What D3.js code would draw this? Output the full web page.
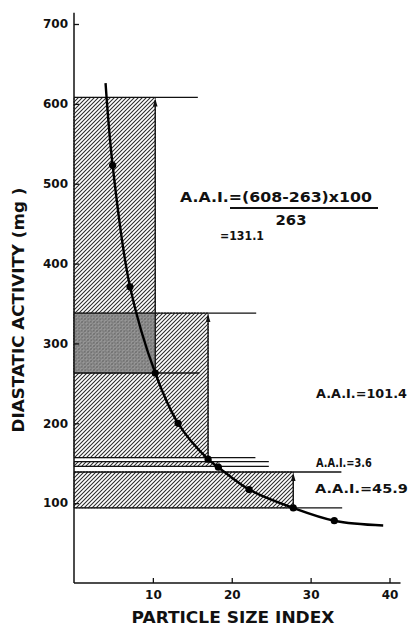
<!DOCTYPE html>
<html><head><meta charset="utf-8">
<script src="https://cdn.jsdelivr.net/npm/d3@7"></script>
<style>
html,body{margin:0;padding:0;background:#fff;}
svg{display:block;font-family:"DejaVu Sans",sans-serif;font-weight:bold;}
</style></head>
<body><svg id="c" width="411" height="628"></svg>
<script>
// ---- data ----
const xTicks = [10, 20, 30, 40];
const yTicks = [100, 200, 300, 400, 500, 600, 700];
// smooth curve (particle size index vs diastatic activity)
const curveX = [4.0, 4.9, 7.1, 10.3, 13.2, 17.0, 18.3, 22.2, 27.8, 33.0, 39.2];
const curveY = [626, 523, 371, 263, 200, 155, 145, 117, 94, 78, 72];
// measured points (dots)
const dotX = [4.9, 7.1, 10.3, 13.2, 17.0, 18.3, 22.2, 27.8, 33.0];
const dotY = [523, 371, 263, 200, 155, 145, 117, 94, 78];
// hatched boxes: right edge (PSI), low and high activity
const boxRight = [10.3, 17.0, 18.4, 27.8];
const boxLow   = [263, 157, 146, 94];
const boxHigh  = [608, 338, 152, 139];
// horizontal guide lines: activity level and right end (PSI)
const guideY   = [608, 263, 338, 157, 152, 146, 139, 94];
const guideEnd = [15.7, 15.9, 23.1, 23.0, 24.7, 24.7, 33.9, 34.0];
// arrows: PSI position, from, to
const arrowX = [10.3, 17.0, 27.8];
const arrowFrom = [263, 157, 94];
const arrowTo = [608, 338, 139];

const svg = d3.select("#c");
const x = d3.scaleLinear().domain([0, 40]).range([74, 389.5]);
const y = d3.scaleLinear().domain([0, 700]).range([583, 24]);

// patterns
const defs = svg.append("defs");
const hp = defs.append("pattern").attr("id","hatch").attr("patternUnits","userSpaceOnUse")
  .attr("width",4).attr("height",4);
hp.append("path").attr("d","M-1,1 l2,-2 M0,4 l4,-4 M3,5 l2,-2")
  .attr("stroke","#2a2a2a").attr("stroke-width",1.05);
const dp = defs.append("pattern").attr("id","dots").attr("patternUnits","userSpaceOnUse")
  .attr("width",3).attr("height",3);
dp.append("rect").attr("width",3).attr("height",3).attr("fill","#8c8c8c");
dp.append("circle").attr("cx",1).attr("cy",1).attr("r",0.7).attr("fill","#5a5a5a");

// boxes
const boxes = boxRight.map((r,i)=>({r, lo: boxLow[i], hi: boxHigh[i]}));
svg.append("g").selectAll("rect").data(boxes).join("rect")
  .attr("x", x(0)).attr("width", d=>x(d.r)-x(0))
  .attr("y", d=>y(d.hi)).attr("height", d=>y(d.lo)-y(d.hi))
  .attr("fill","#fff");
svg.append("g").selectAll("rect").data(boxes).join("rect")
  .attr("x", x(0)).attr("width", d=>x(d.r)-x(0))
  .attr("y", d=>y(d.hi)).attr("height", d=>y(d.lo)-y(d.hi))
  .attr("fill","url(#hatch)").attr("stroke","#222").attr("stroke-width",0.9)
  .attr("stroke-dasharray","2,1");
// overlap of first two boxes (darker)
const ov = {r: Math.min(boxRight[0], boxRight[1]), lo: Math.max(boxLow[0], boxLow[1]), hi: Math.min(boxHigh[0], boxHigh[1])};
svg.append("rect").attr("x", x(0)).attr("width", x(ov.r)-x(0))
  .attr("y", y(ov.hi)).attr("height", y(ov.lo)-y(ov.hi))
  .attr("fill","url(#dots)").attr("opacity",0.9);

// guide lines
svg.append("g").selectAll("line").data(guideY).join("line")
  .attr("x1", x(0)).attr("x2",(d,i)=>x(guideEnd[i]))
  .attr("y1", d=>y(d)).attr("y2", d=>y(d))
  .attr("stroke","#111").attr("stroke-width",1.3);

// arrows
const ag = svg.append("g");
arrowX.forEach((ax,i)=>{
  ag.append("line").attr("x1",x(ax)).attr("x2",x(ax))
    .attr("y1",y(arrowFrom[i])).attr("y2",y(arrowTo[i])+3)
    .attr("stroke","#111").attr("stroke-width",1.3);
  const tx = x(ax), ty = y(arrowTo[i])+1;
  ag.append("path").attr("d",`M${tx},${ty} L${tx-2.3},${ty+8} L${tx+2.3},${ty+8} Z`).attr("fill","#111");
});

// curve
const line = d3.line().x(d=>x(d[0])).y(d=>y(d[1])).curve(d3.curveCatmullRom.alpha(0.5));
svg.append("path").datum(curveX.map((v,i)=>[v,curveY[i]]))
  .attr("d",line).attr("fill","none").attr("stroke","#000").attr("stroke-width",2.4);
svg.append("g").selectAll("circle").data(dotX.map((v,i)=>[v,dotY[i]])).join("circle")
  .attr("cx",d=>x(d[0])).attr("cy",d=>y(d[1])).attr("r",3.6).attr("fill","#000");

// axes
const ya = svg.append("g").attr("transform",`translate(${x(0)},0)`)
  .call(d3.axisLeft(y).tickValues(yTicks).tickSize(-5).tickPadding(6).tickFormat(d3.format("d")));
ya.select(".domain").remove();
ya.selectAll("text").attr("font-size",12).attr("font-family","DejaVu Sans").attr("font-weight","bold").attr("fill","#111");
ya.selectAll("line").attr("stroke","#111").attr("stroke-width",1.3);
const xa = svg.append("g").attr("transform",`translate(0,${y(0)})`)
  .call(d3.axisBottom(x).tickValues(xTicks).tickSize(-5).tickPadding(7).tickFormat(d3.format("d")));
xa.select(".domain").remove();
xa.selectAll("text").attr("font-size",12).attr("font-family","DejaVu Sans").attr("font-weight","bold").attr("fill","#111");
xa.selectAll("line").attr("stroke","#111").attr("stroke-width",1.3);
svg.append("line").attr("x1",x(0)).attr("x2",x(0)).attr("y1",y(0)).attr("y2",y(714))
  .attr("stroke","#111").attr("stroke-width",1.5);
svg.append("line").attr("x1",x(0)).attr("x2",x(41.4)).attr("y1",y(0)).attr("y2",y(0))
  .attr("stroke","#111").attr("stroke-width",1.5);

// text helper: place text with baseline at (tx,ty), horizontally scaled to width w
function fitText(str, tx, ty, size, w, anchor, rot) {
  const t = svg.append("text").attr("font-size", size).attr("fill","#111")
    .attr("text-anchor", anchor || "start").text(str);
  const nat = t.node().getComputedTextLength();
  const k = w / nat;
  t.attr("transform", `translate(${tx},${ty})` + (rot ? ` rotate(${rot})` : "") + ` scale(${k},1)`);
  return t;
}

// axis titles
fitText("PARTICLE SIZE INDEX", 233, 623, 15, 203, "middle");
fitText("DIASTATIC ACTIVITY (mg )", 24, 310, 15, 245, "middle", -90);

// annotations
fitText("A.A.I.=(608-263)x100", 180, 201.5, 14, 192);
svg.append("line").attr("x1",230).attr("x2",378).attr("y1",208).attr("y2",208)
  .attr("stroke","#111").attr("stroke-width",2);
fitText("263", 291, 225, 14, 31, "middle");
fitText("=131.1", 220, 240, 13, 44);
fitText("A.A.I.=101.4", 316, 398, 13, 91);
fitText("A.A.I.=3.6", 316, 467.3, 13, 56);
fitText("A.A.I.=45.9", 315, 493.3, 13, 93);
</script></body></html>
